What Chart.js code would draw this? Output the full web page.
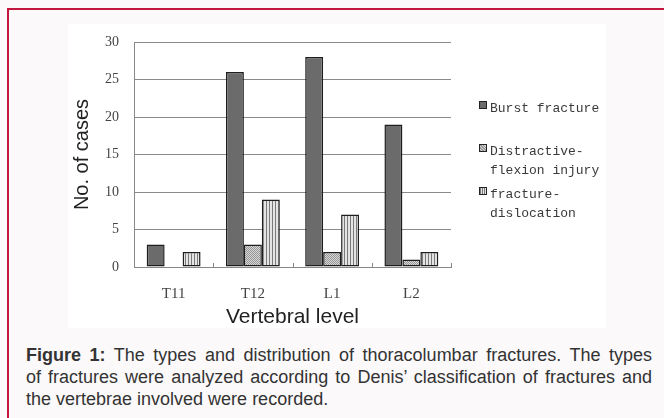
<!DOCTYPE html>
<html>
<head>
<meta charset="utf-8">
<script src="https://cdn.jsdelivr.net/npm/chart.js@4/dist/chart.umd.min.js"></script>
<style>
html, body {
    margin: 0;
    padding: 0;
    width: 664px;
    height: 418px;
    overflow: hidden;
    background: #fbf9fa;
}
.frame {
    position: absolute;
    left: 7px;
    top: 8px;
    width: 700px;
    height: 430px;
    border-top: 2px solid #c3173f;
    border-left: 2px solid #c3173f;
}
.figure {
    position: absolute;
    left: 68px;
    top: 24px;
    width: 538px;
    height: 304px;
    background: #ffffff;
}
.figure canvas {
    position: absolute;
    left: 0;
    top: 0;
}
.legend {
    position: absolute;
    left: 411px;
    top: 75px;
    font-family: "Liberation Mono", "DejaVu Sans Mono", monospace;
    font-size: 13px;
    line-height: 19px;
    color: #3a3a3a;
}
.legend-item {
    position: relative;
    padding-left: 11px;
}
.legend-item .swatch {
    position: absolute;
    left: 0;
    top: 2px;
    width: 6px;
    height: 6px;
    border: 1px solid #222;
}
.caption {
    position: absolute;
    left: 26px;
    top: 344px;
    width: 626px;
    font-family: "Liberation Sans", Arial, sans-serif;
    font-size: 18px;
    line-height: 22px;
    color: #333;
}
.caption div {
    text-align: justify;
    text-align-last: justify;
}
.caption div:last-child {
    text-align-last: left;
}
</style>
</head>
<body>
<div class="frame"></div>
<div class="figure">
    <canvas id="chart" width="538" height="304"></canvas>
    <div class="legend" id="legend"></div>
</div>
<div class="caption">
    <div><b>Figure 1:</b> The types and distribution of thoracolumbar fractures. The types</div>
    <div>of fractures were analyzed according to Denis’ classification of fractures and</div>
    <div>the vertebrae involved were recorded.</div>
</div>

<script>
// chart data
const levels = ['T11', 'T12', 'L1', 'L2'];
const burstFracture = [3, 26, 28, 19];
const distractiveFlexion = [0, 3, 2, 1];
const fractureDislocation = [2, 9, 7, 2];
const seriesNames = [['Burst fracture'], ['Distractive-', 'flexion injury'], ['fracture-', 'dislocation']];
const yTicks = [0, 5, 10, 15, 20, 25, 30];

// small fill patterns like the printed figure
function makePattern(kind) {
    const c = document.createElement('canvas');
    const ctx = c.getContext('2d');
    if (kind === 'dots') {
        c.width = 2; c.height = 2;
        ctx.fillStyle = '#d6d6d6';
        ctx.fillRect(0, 0, 2, 2);
        ctx.fillStyle = '#979797';
        ctx.fillRect(0, 0, 1, 1);
        ctx.fillRect(1, 1, 1, 1);
    } else if (kind === 'stripes') {
        c.width = 3; c.height = 3;
        ctx.fillStyle = '#e4e4e4';
        ctx.fillRect(0, 0, 3, 3);
        ctx.fillStyle = '#7a7a7a';
        ctx.fillRect(0, 0, 1, 3);
    }
    return c;
}

const ctx = document.getElementById('chart').getContext('2d');
const dotsPattern = ctx.createPattern(makePattern('dots'), 'repeat');
const stripesPattern = ctx.createPattern(makePattern('stripes'), 'repeat');
const fills = ['#6b6b6b', dotsPattern, stripesPattern];

// html legend with the same swatches
const legendEl = document.getElementById('legend');
const swatchCss = [
    'background:#6b6b6b',
    'background:repeating-linear-gradient(45deg,#999 0 1px,#d6d6d6 1px 2px)',
    'background:repeating-linear-gradient(90deg,#7a7a7a 0 1px,#e4e4e4 1px 2px)'
];
const legendGaps = [0, 24, 5];
seriesNames.forEach((lines, i) => {
    const item = document.createElement('div');
    item.className = 'legend-item';
    item.style.marginTop = legendGaps[i] + 'px';
    item.innerHTML = '<span class="swatch" style="' + swatchCss[i] + '"></span>' + lines.join('<br>');
    legendEl.appendChild(item);
});

// little inward tick marks between the categories
const innerTicks = {
    id: 'innerTicks',
    afterDatasetsDraw(chart) {
        const x = chart.scales.x;
        const c = chart.ctx;
        const step = x.width / levels.length;
        c.save();
        c.strokeStyle = '#888';
        c.lineWidth = 1;
        for (let i = 1; i <= levels.length; i++) {
            const px = Math.round(x.left + step * i) + 0.5;
            c.beginPath();
            c.moveTo(px, x.top);
            c.lineTo(px, x.top - 4);
            c.stroke();
        }
        c.restore();
    }
};

new Chart(ctx, {
    type: 'bar',
    data: {
        labels: levels,
        datasets: [
            { label: 'Burst fracture', data: burstFracture },
            { label: 'Distractive-flexion injury', data: distractiveFlexion },
            { label: 'fracture-dislocation', data: fractureDislocation }
        ].map((d, i) => Object.assign(d, {
            backgroundColor: fills[i],
            borderColor: '#1e1e1e',
            borderWidth: 1.5,
            borderSkipped: false,
            barPercentage: 1.0,
            categoryPercentage: 0.68
        }))
    },
    options: {
        responsive: false,
        animation: false,
        layout: {
            padding: { top: 18, right: 155, bottom: 0, left: 0 }
        },
        plugins: {
            legend: { display: false },
            tooltip: { enabled: false }
        },
        scales: {
            x: {
                grid: { display: false, drawTicks: false },
                border: { display: true, color: '#888', width: 1 },
                ticks: {
                    padding: 18,
                    color: '#444',
                    font: { family: '"Liberation Serif", "Times New Roman", serif', size: 15 }
                },
                title: {
                    display: true,
                    text: 'Vertebral level',
                    color: '#222',
                    padding: { top: 0, bottom: 0 },
                    font: { family: '"Liberation Sans", Arial, sans-serif', size: 21, lineHeight: 1.0 }
                },
                afterFit(scale) { scale.height = 61; }
            },
            y: {
                min: 0,
                max: 30,
                afterBuildTicks(scale) { scale.ticks = yTicks.map(v => ({ value: v })); },
                grid: { color: '#8a8a8a', lineWidth: 1, drawTicks: false },
                border: { display: true, color: '#888', width: 1 },
                ticks: {
                    padding: 15,
                    color: '#444',
                    font: { family: '"Liberation Serif", "Times New Roman", serif', size: 14 }
                },
                title: {
                    display: true,
                    text: 'No. of cases',
                    color: '#222',
                    padding: { top: 2, bottom: 0 },
                    font: { family: '"Liberation Sans", Arial, sans-serif', size: 20 }
                },
                afterFit(scale) {
                    scale.width = 66;
                    scale.paddingTop = 0;
                    scale.paddingBottom = 0;
                }
            }
        }
    },
    plugins: [innerTicks]
});
</script>
</body>
</html>
